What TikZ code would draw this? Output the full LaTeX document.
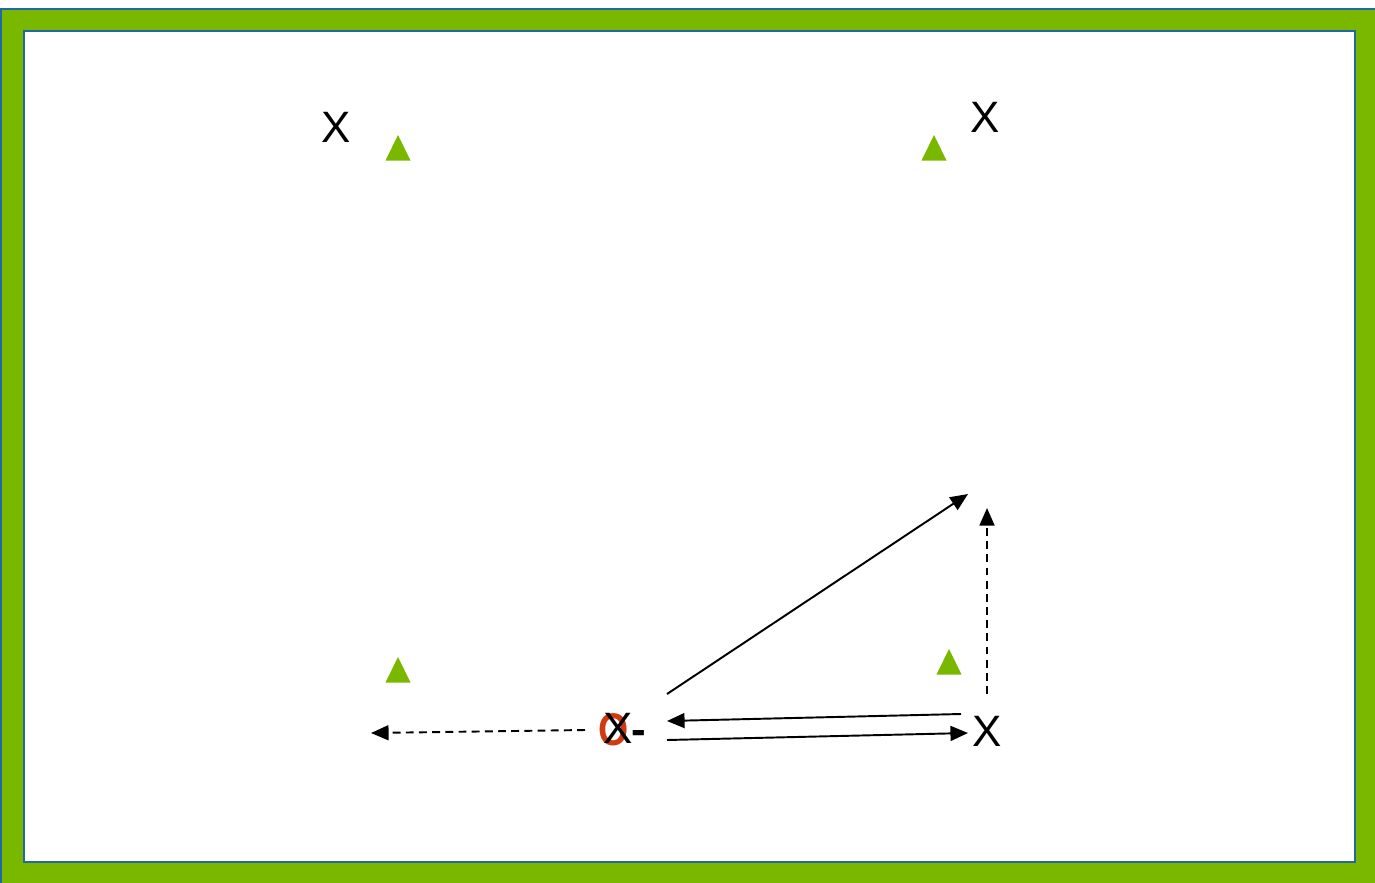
\documentclass[tikz,border=0pt]{standalone}
\usepackage{fontspec}
\setmainfont{Liberation Sans}
\usepackage{tikz}
\usetikzlibrary{arrows.meta,positioning}
\usepackage{xcolor}
\definecolor{pitchgreen}{HTML}{7AB800}
\definecolor{pitchblue}{HTML}{1F6AA5}
\definecolor{ballred}{HTML}{D03A12}

\begin{document}
\begin{tikzpicture}[
    x=0.02cm, y=-0.02cm,
    arr/.style={-{Triangle[length=10pt,width=8.5pt]}, line width=1.1pt},
    dasharr/.style={arr, dash pattern=on 4.5pt off 3pt},
    cone/.style={fill=pitchgreen},
    plr/.style={font=\fontsize{25}{29}\selectfont, inner sep=0pt},
  ]
  \useasboundingbox (0,0) rectangle (1375,882);

  % Pitch frame
  \draw[pitchblue, fill=pitchgreen, line width=0.8pt] (1,9) rectangle (1380,890);
  \draw[pitchblue, fill=white, line width=1.2pt] (24,31) rectangle (1355,862);

  % Cones
  \foreach \cx/\cy in {398/148, 934/148, 398/670, 949/662} {
    \fill[cone] (\cx-12.5,\cy+12.5) -- (\cx,\cy-13) -- (\cx+12.5,\cy+12.5) -- cycle;
  }

  % Players
  \node[plr] (topleft) at (336,127) {X};
  \node[plr] (topright) at (985,117) {X};
  \node[plr] (partner) at (987,731) {X};

  % Player with ball
  \node[plr, text=ballred, font=\fontsize{26}{30}\selectfont\bfseries]
    (ball) at (614,730) {\scalebox{0.85}[1]{O}};
  \node[plr] (striker) at (618,728) {X};
  \node[plr, font=\fontsize{25}{29}\selectfont\bfseries] (tail) at (639,737) {-};

  % Movement ends
  \coordinate (runend) at (968,494);
  \coordinate (upend) at (987,508);
  \coordinate (leftend) at (371,733);
  \coordinate (runstart) at (667,694);
  \coordinate (passstart) at (667,740);
  \coordinate (backend) at (667,721);
  \coordinate (backstart) at (961,714);
  \coordinate (passend) at (968,733);
  \coordinate (upstart) at (987,694);
  \coordinate (leftstart) at (585,730);

  % Runs and passes
  \draw[arr] (runstart) -- (runend);
  \draw[arr] (passstart) -- (passend);
  \draw[arr] (backstart) -- (backend);
  \draw[dasharr] (upstart) -- (upend);
  \draw[dasharr] (leftstart) -- (leftend);

\end{tikzpicture}
\end{document}
